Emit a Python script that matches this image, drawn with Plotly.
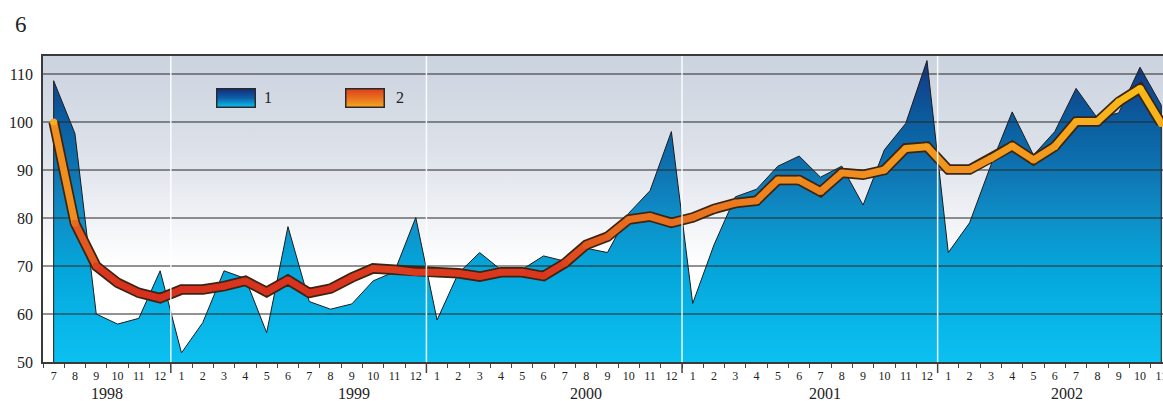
import base64
import plotly.graph_objects as go
import plotly.colors as pc

# ---------------- data ----------------
months = [7, 8, 9, 10, 11, 12] + list(range(1, 13)) * 3 + list(range(1, 12))
years = ["1998", "1999", "2000", "2001", "2002"]
year_label_pos = [2.5, 14.1, 25.0, 36.2, 47.55]

series1 = [108.6, 97.6, 60.0, 57.9, 59.1, 69.0, 51.9, 58.2, 69.0, 67.4, 56.1, 78.2,
           62.6, 61.0, 62.1, 66.9, 68.8, 80.1, 58.75, 68.5, 72.8, 69.2, 69.3, 72.1, 71.0,
           73.7, 72.8, 81.0, 85.7, 98.0, 62.2, 74.4, 84.4, 86.0, 90.8, 92.9, 88.5, 90.8,
           82.7, 94.2, 99.7, 112.8, 72.8, 79.0, 91.0, 102.1, 93.1, 98.0, 107.0, 100.8,
           101.9, 111.4, 103.5]

series2 = [100.0, 78.9, 70.0, 66.5, 64.4, 63.3, 65.1, 65.1, 65.8, 66.9, 64.6, 67.1,
           64.4, 65.3, 67.6, 69.5, 69.2, 68.7, 68.7, 68.5, 67.8, 68.7, 68.7, 67.9, 70.6,
           74.4, 76.1, 79.7, 80.3, 79.0, 80.1, 81.9, 83.1, 83.6, 87.9, 87.9, 85.5, 89.4,
           89.0, 90.0, 94.5, 94.85, 90.1, 90.1, 92.4, 95.0, 92.1, 94.9, 100.1, 100.1,
           104.2, 107.0, 99.7]

yticks = [50, 60, 70, 80, 90, 100, 110]
series_names = ["1", "2"]

# ---------------- layout constants ----------------
W, H = 1163, 401
ML, MR, MT, MB = 43, 0, 56, 39
PW, PH = W - ML - MR, H - MT - MB
YMIN, YMAX = 50, 113.75
XMIN, XMAX = -0.5, 52.08
FONT = "Liberation Serif, DejaVu Serif, serif"

idx = list(range(len(series1)))
year_bounds = [i - 0.5 for i in range(1, len(months)) if months[i] == 1]

line_scale = [[0.0, "#d42a1e"], [0.16, "#da361e"], [0.36, "#e66a1e"],
              [0.56, "#ef8a1e"], [0.78, "#f6aa1e"], [1.0, "#fcc614"]]


def line_color(v):
    t = min(max((v - 60) / 50.0, 0), 1)
    return pc.sample_colorscale(line_scale, [t])[0]


def svg_uri(svg):
    return "data:image/svg+xml;base64," + base64.b64encode(svg.encode()).decode()


bg_svg = ('<svg xmlns="http://www.w3.org/2000/svg" width="100" height="100" preserveAspectRatio="none">'
          '<defs><linearGradient id="g" x1="0" y1="0" x2="0" y2="1">'
          '<stop offset="0" stop-color="#cbd3df"/><stop offset="0.3" stop-color="#dce1e9"/>'
          '<stop offset="0.52" stop-color="#eff1f5"/><stop offset="0.68" stop-color="#ffffff"/>'
          '<stop offset="1" stop-color="#ffffff"/></linearGradient></defs>'
          '<rect width="100" height="100" fill="url(#g)"/></svg>')


def box_svg(c_top, c_mid, c_bot):
    return ('<svg xmlns="http://www.w3.org/2000/svg" width="40" height="20" preserveAspectRatio="none">'
            '<defs><linearGradient id="g" x1="0" y1="0" x2="0" y2="1">'
            f'<stop offset="0" stop-color="{c_top}"/><stop offset="0.5" stop-color="{c_mid}"/>'
            f'<stop offset="1" stop-color="{c_bot}"/></linearGradient></defs>'
            '<rect x="0.75" y="0.75" width="38.5" height="18.5" fill="url(#g)" stroke="#2a2a2a" stroke-width="1.5"/></svg>')


fig = go.Figure()

# area series 1 (closed polygon down to axis)
fig.add_trace(go.Scatter(
    x=[idx[0]] + idx + [idx[-1]],
    y=[YMIN] + series1 + [YMIN],
    mode="lines", fill="toself",
    fillgradient=dict(type="vertical", start=YMIN, stop=YMAX,
                      colorscale=[[0.0, "#0bc0f0"], [0.16, "#08b3e6"], [0.32, "#05a4d9"],
                                  [0.48, "#0f8dc6"], [0.64, "#0e72b0"], [0.8, "#0b5b9d"],
                                  [0.94, "#133f88"], [1.0, "#163782"]]),
    line=dict(color="#1c1c1c", width=1),
    showlegend=False, hoverinfo="skip"))

# grid lines drawn over the area
for v in yticks[1:]:
    fig.add_trace(go.Scatter(x=[XMIN, XMAX + 1], y=[v, v], mode="lines",
                             line=dict(color="#262626", width=1.2),
                             showlegend=False, hoverinfo="skip"))

# series 2: outline
fig.add_trace(go.Scatter(x=idx, y=series2, mode="lines",
                         line=dict(color="#3a2414", width=10.5),
                         showlegend=False, hoverinfo="skip"))
# series 2: coloured segments
for i in range(len(series2) - 1):
    c = line_color((series2[i] + series2[i + 1]) / 2)
    fig.add_trace(go.Scatter(x=[idx[i], idx[i + 1]], y=[series2[i], series2[i + 1]],
                             mode="lines", line=dict(color=c, width=7),
                             showlegend=False, hoverinfo="skip"))
fig.add_trace(go.Scatter(x=idx, y=series2, mode="markers",
                         marker=dict(size=7, color=[line_color(v) for v in series2],
                                     line=dict(width=0)),
                         showlegend=False, hoverinfo="skip"))

shapes = []
for b in year_bounds:
    shapes.append(dict(type="line", xref="x", yref="paper", x0=b, x1=b, y0=0, y1=1,
                       line=dict(color="rgba(255,255,255,0.9)", width=1.5), layer="above"))
    shapes.append(dict(type="line", xref="x", yref="paper", x0=b, x1=b, y0=0, y1=-11 / PH,
                       line=dict(color="#444", width=1.5), layer="above"))

annotations = [dict(text="6", xref="paper", yref="paper", x=(21 - ML) / PW, y=(H - MB - 25) / PH,
                    showarrow=False, font=dict(family=FONT, size=23, color="#222"),
                    xanchor="center", yanchor="middle")]
for yr, p in zip(years, year_label_pos):
    annotations.append(dict(text=yr, xref="x", yref="paper", x=p, y=-(393 - (H - MB)) / PH,
                            showarrow=False, font=dict(family=FONT, size=16, color="#222"),
                            xanchor="center", yanchor="middle"))
leg_x = [216, 345]
lab_x = [268, 400]
boxes = [("#132c78", "#0d5fa8", "#0ac2f0"), ("#de3e1c", "#e8701e", "#f5a81e")]
images = [dict(source=svg_uri(bg_svg), xref="paper", yref="paper", x=0, y=1, sizex=1, sizey=1,
               sizing="stretch", layer="below", xanchor="left", yanchor="top")]
for name, lx, tx, (ct, cm, cb) in zip(series_names, leg_x, lab_x, boxes):
    images.append(dict(source=svg_uri(box_svg(ct, cm, cb)), xref="paper", yref="paper",
                       x=(lx - ML) / PW, y=(H - MB - 88) / PH, sizex=40 / PW, sizey=20 / PH,
                       sizing="stretch", layer="above", xanchor="left", yanchor="top"))
    annotations.append(dict(text=name, xref="paper", yref="paper", x=(tx - ML) / PW,
                            y=(H - MB - 98) / PH, showarrow=False,
                            font=dict(family=FONT, size=16, color="#222"),
                            xanchor="center", yanchor="middle"))

fig.update_layout(
    width=W, height=H, margin=dict(l=ML, r=MR, t=MT, b=MB, pad=0, autoexpand=False),
    paper_bgcolor="white", plot_bgcolor="rgba(0,0,0,0)",
    shapes=shapes, annotations=annotations, images=images,
    showlegend=False,
    xaxis=dict(range=[XMIN, XMAX], tickmode="array", tickvals=idx,
               ticktext=[str(m) for m in months], ticks="", showgrid=False, zeroline=False,
               showline=True, linecolor="#3a3a3a", linewidth=1.5, mirror=True,
               tickfont=dict(family=FONT, size=12, color="#222"), ticklabelstandoff=2,
               tickangle=0, ticklabeloverflow="allow", automargin=False,
               minor=dict(tickmode="linear", tick0=0.5, dtick=1, ticks="outside",
                          ticklen=4, tickcolor="#444", tickwidth=1.2, showgrid=False)),
    yaxis=dict(range=[YMIN, YMAX], tickmode="array", tickvals=yticks, ticks="",
               showgrid=False, zeroline=False, showline=True, linecolor="#3a3a3a",
               linewidth=1.5, tickfont=dict(family=FONT, size=16, color="#222"),
               ticklabelstandoff=5, automargin=False),
)

fig.write_html("out.html", config={"displayModeBar": False},
               post_script="document.body.style.margin='0';")
